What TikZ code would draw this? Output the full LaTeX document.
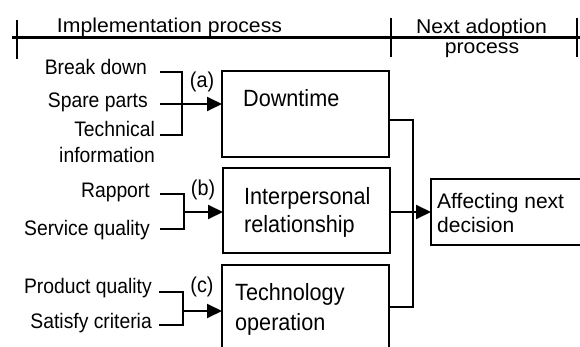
\documentclass[tikz,border=0pt]{standalone}
\usepackage{fontspec}
\setmainfont{Liberation Sans}
\newfontfamily\narrowfont{Liberation Sans}[FakeStretch=0.92]
\newfontfamily\widefont{Liberation Sans}[FakeStretch=1.06]
\usetikzlibrary{arrows.meta}
\begin{document}
\begin{tikzpicture}[x=1pt,y=-1pt,
  lbl/.style={inner sep=0pt, anchor=base east, font=\narrowfont\fontsize{21}{25}\selectfont},
  btxt/.style={inner sep=0pt, anchor=base west, font=\narrowfont\fontsize{23.5}{27}\selectfont},
  atxt/.style={inner sep=0pt, anchor=base west, font=\fontsize{21}{25}\selectfont},
  hdr/.style={inner sep=0pt, anchor=base, font=\widefont\fontsize{20}{24}\selectfont},
  tag/.style={inner sep=0pt, anchor=center, font=\narrowfont\fontsize{21.5}{25}\selectfont},
  box/.style={draw, line width=2.6pt, inner sep=0pt, outer sep=0pt, anchor=north west},
  conn/.style={line width=2.4pt},
  arr/.style={line width=2pt, -{Triangle[length=15pt,width=14pt]}},
  rule/.style={line width=3pt},
  tick/.style={line width=2pt},
]
\useasboundingbox (0,0) rectangle (580,347);
\clip (0,0) rectangle (580,347);

% header
\draw[rule] (12,38) -- (580,38);
\draw[tick] (17,20) -- (17,59);
\draw[tick] (391,18) -- (391,57);
\draw[tick] (577,18) -- (577,57);
\node[hdr] (h1) at (169.5,33) {Implementation process};
\node[hdr] (h2) at (481.5,34) {Next adoption};
\node[hdr] (h3) at (482,54) {process};

% boxes
\node[box, minimum width=167pt, minimum height=86pt] (dt) at (222,71) {};
\node[box, minimum width=167pt, minimum height=85pt] (ip) at (223,168) {};
\node[box, minimum width=167pt, minimum height=110pt] (tc) at (222,265) {};
\node[box, minimum width=170pt, minimum height=66pt] (af) at (431,179) {};

\node[btxt] (dtt) at (243,107) {Downtime};
\node[btxt] (ipt1) at (244,205) {Interpersonal};
\node[btxt] (ipt2) at (244,232) {relationship};
\node[btxt] (tct1) at (235,300) {Technology};
\node[btxt] (tct2) at (235,330) {operation};
\node[atxt] (aft1) at (437,208) {Affecting next};
\node[atxt] (aft2) at (437,233) {decision};

% left labels
\node[lbl] (bd) at (147,75) {Break down};
\node[lbl] (sp) at (148,108) {Spare parts};
\node[lbl] (ti1) at (155,137) {Technical};
\node[lbl] (ti2) at (155,163) {information};
\node[lbl] (rp) at (150,198) {Rapport};
\node[lbl] (sq) at (150,235) {Service quality};
\node[lbl] (pq) at (152,293) {Product quality};
\node[lbl] (sc) at (152,328) {Satisfy criteria};

\node[tag] (ta) at (202,82) {(a)};
\node[tag] (tb) at (203,190) {(b)};
\node[tag] (tcc) at (202,287) {(c)};

% brackets (a)
\coordinate (a1) at (160,72);
\coordinate (a2) at (160,135);
\coordinate (aj) at (182,104);
\coordinate (a0) at (160,104);
\draw[conn] (a1) -| (aj) |- (a2);
\draw[arr] (a0) -- (a0 -| dt.west);

% brackets (b)
\coordinate (b1) at (160,194);
\coordinate (b2) at (160,229);
\coordinate (bj) at (184,212);
\draw[conn] (b1) -| (bj) |- (b2);
\draw[arr] (bj) -- (bj -| ip.west);

% brackets (c)
\coordinate (c1) at (159,292);
\coordinate (c2) at (159,325);
\coordinate (cj) at (183,311);
\draw[conn] (c1) -| (cj) |- (c2);
\draw[arr] (cj) -- (cj -| tc.west);

% right collector
\coordinate (jv) at (413,212);
\draw[conn] ([yshift=-6pt]dt.east) -| (jv) |- ([yshift=13pt]tc.east);
\draw[arr] (ip.east |- af.west) -- (af.west);
\end{tikzpicture}
\end{document}
